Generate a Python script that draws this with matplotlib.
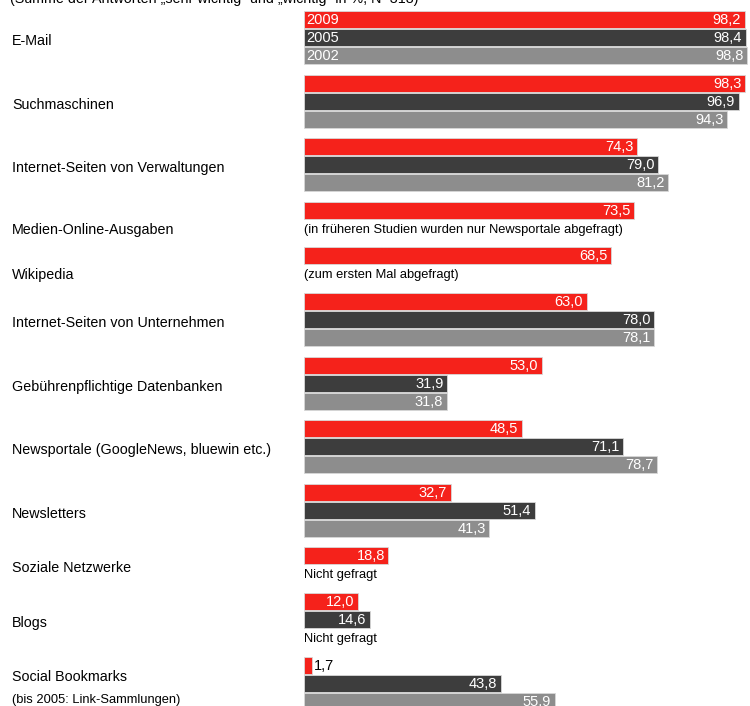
import matplotlib.pyplot as plt

plt.rcParams['font.family'] = ['Liberation Sans', 'DejaVu Sans']

# data (None = not asked in that year)
categories = ['E-Mail', 'Suchmaschinen', 'Internet-Seiten von Verwaltungen',
              'Medien-Online-Ausgaben', 'Wikipedia', 'Internet-Seiten von Unternehmen',
              'Gebührenpflichtige Datenbanken', 'Newsportale (GoogleNews, bluewin etc.)',
              'Newsletters', 'Soziale Netzwerke', 'Blogs',
              'Social Bookmarks\n(bis 2005: Link-Sammlungen)']
years = ['2009', '2005', '2002']
v2009 = [98.2, 98.3, 74.3, 73.5, 68.5, 63.0, 53.0, 48.5, 32.7, 18.8, 12.0, 1.7]
v2005 = [98.4, 96.9, 79.0, None, None, 78.0, 31.9, 71.1, 51.4, None, 14.6, 43.8]
v2002 = [98.8, 94.3, 81.2, None, None, 78.1, 31.8, 78.7, 41.3, None, None, 55.9]
notes = [None, None, None, '(in früheren Studien wurden nur Newsportale abgefragt)',
         '(zum ersten Mal abgefragt)', None, None, None, None,
         'Nicht gefragt', 'Nicht gefragt', None]

colors = ['#f5221b', '#3d3d3d', '#8d8d8d']
# labels that sit level with their note line instead of the group middle
note_aligned = ['Medien-Online-Ausgaben', 'Wikipedia']

W, H = 750, 706
fig = plt.figure(figsize=(W / 100, H / 100), dpi=100)
ax = fig.add_axes([304 / W, 0, 446 / W, 1])
ax.set_xlim(0, 99.4)
ax.set_ylim(H, 0)
ax.axis('off')

# helper axes for left side text in pixel units
tx = fig.add_axes([0, 0, 1, 1], facecolor='none')
tx.set_xlim(0, W)
tx.set_ylim(H, 0)
tx.axis('off')

tx.text(10, -1, '(Summe der Antworten \u201esehr wichtig\u201c und \u201ewichtig\u201c in %, N=318)',
        fontsize=10.3, va='center', ha='left')

pitch, bh, gap = 18, 17, 9.6
y = 11
for i, cat in enumerate(categories):
    vals = [v2009[i], v2005[i], v2002[i]]
    top = y
    for j, v in enumerate(vals):
        if v is None:
            continue
        ax.barh(y + bh / 2, v, height=bh, color=colors[j], edgecolor='#d8d8d8',
                linewidth=0.6)
        label = f'{v:.1f}'.replace('.', ',')
        if v < 5:
            ax.text(v + 0.6, y + bh / 2 + 0.5, label, color='black', fontsize=10.5,
                    va='center', ha='left')
        else:
            ax.text(v - 0.8, y + bh / 2 + 0.5, label, color='white', fontsize=10.5,
                    va='center', ha='right')
        if i == 0:
            ax.text(0.4, y + bh / 2 + 0.5, years[j], color='white', fontsize=10.5,
                    va='center', ha='left')
        y += pitch
    note_y = None
    if notes[i] is not None:
        note_y = y + 10
        ax.text(0, note_y, notes[i], fontsize=9.3, va='center', ha='left')
        y += pitch
    mid = (top + y) / 2 + 3
    if cat in note_aligned:
        mid = note_y
    lines = cat.split('\n')
    if len(lines) == 1:
        tx.text(12, mid, cat, fontsize=10.3, va='center', ha='left')
    else:
        tx.text(12, mid - 10, lines[0], fontsize=10.3, va='center', ha='left')
        tx.text(12, mid + 13, lines[1], fontsize=9.3, va='center', ha='left')
    y += gap

fig.savefig('out.png', dpi=100)
